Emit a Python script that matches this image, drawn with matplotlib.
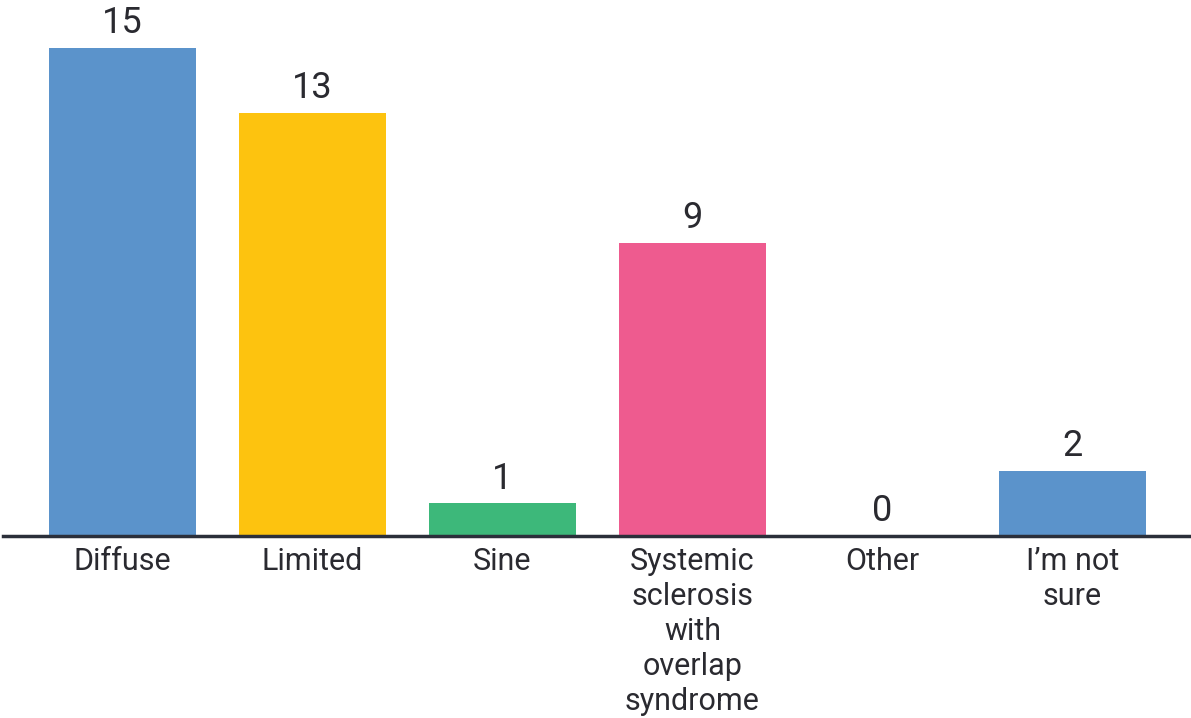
import matplotlib
matplotlib.use("Agg")
import matplotlib.pyplot as plt

categories = ["Diffuse", "Limited", "Sine",
              "Systemic\nsclerosis\nwith\noverlap\nsyndrome", "Other", "I\u2019m not\nsure"]
values = [15, 13, 1, 9, 0, 2]
colors = ["#5B93CB", "#FDC30F", "#3DB87A", "#EE5B8F", "#5B93CB", "#5B93CB"]

plt.rcParams['font.family'] = ['Roboto', 'DejaVu Sans']
text_color = "#2a2a30"

fig = plt.figure(figsize=(11.91, 7.18), dpi=100)
ax = fig.add_axes([3/1191, 182/718, 1188/1191, 536/718])

x = list(range(len(categories)))
ax.bar(x, values, width=0.77, color=colors, zorder=2)
ax.set_xlim(-0.629, 5.624)
ax.set_ylim(0, 16.48)

for xi, v in zip(x, values):
    ax.annotate(str(v), (xi, v), xytext=(0, 5), textcoords="offset points",
                ha="center", va="bottom", fontsize=26, color=text_color)

for s in ["top", "right", "left"]:
    ax.spines[s].set_visible(False)
ax.spines["bottom"].set_color("#2b2f3a")
ax.spines["bottom"].set_linewidth(2.5)
ax.spines["bottom"].set_zorder(3)
ax.set_yticks([])
ax.set_xticks(x)
ax.set_xticklabels(categories, fontsize=22, color=text_color, linespacing=1.26)
ax.tick_params(axis="x", length=0, pad=8)

fig.savefig("out.png", dpi=100)
